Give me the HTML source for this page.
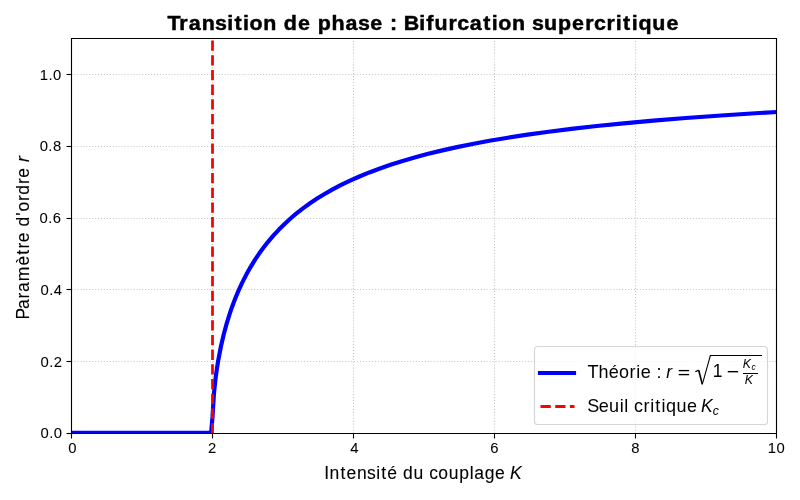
<!DOCTYPE html>
<html><head><meta charset="utf-8"><style>
html,body{margin:0;padding:0;background:#fff;width:800px;height:500px;overflow:hidden}
svg{display:block;will-change:transform}
text{font-family:"Liberation Sans",sans-serif}
</style></head><body>
<svg width="800" height="500" viewBox="0 0 800 500">
<defs><clipPath id="ax"><rect x="71.28" y="38.33" width="704.91" height="394.67"/></clipPath></defs>
<rect width="800" height="500" fill="#fff"/>
<g fill="none" stroke="#b0b0b0" stroke-opacity="0.7" stroke-width="1.1111" stroke-dasharray="1.1111 1.8333" clip-path="url(#ax)"><path d="M71.5 433.5V38.5"/><path d="M212.5 433.5V38.5"/><path d="M353.5 433.5V38.5"/><path d="M494.5 433.5V38.5"/><path d="M635.5 433.5V38.5"/><path d="M776.5 433.5V38.5"/><path d="M71.5 433.5H776.5"/><path d="M71.5 361.5H776.5"/><path d="M71.5 289.5H776.5"/><path d="M71.5 218.5H776.5"/><path d="M71.5 146.5H776.5"/><path d="M71.5 74.5H776.5"/></g>
<path d="M71.28 432.72 L211.13 432.72 L212.54 416.69 L213.95 393.64 L215.37 380.07 L216.78 369.53 L218.19 360.67 L221.02 346.01 L223.84 333.93 L226.67 323.54 L229.49 314.39 L232.32 306.18 L235.14 298.74 L237.97 291.91 L242.21 282.65 L246.45 274.33 L250.68 266.80 L254.92 259.91 L259.16 253.59 L263.40 247.75 L267.64 242.32 L273.29 235.66 L278.94 229.56 L284.59 223.95 L290.24 218.76 L295.89 213.95 L302.95 208.40 L310.01 203.30 L317.08 198.59 L324.14 194.23 L332.62 189.41 L341.09 184.97 L349.57 180.88 L359.46 176.48 L369.35 172.44 L379.23 168.72 L390.54 164.80 L401.84 161.20 L414.55 157.49 L427.26 154.09 L441.39 150.62 L456.93 147.14 L472.47 143.98 L489.42 140.82 L507.79 137.71 L527.56 134.68 L548.75 131.74 L571.35 128.90 L596.78 126.03 L623.62 123.31 L653.29 120.62 L685.78 117.99 L721.09 115.46 L759.24 113.03 L776.19 112.04 L776.19 112.04" fill="none" stroke="#0000ff" stroke-width="4.1667" stroke-linecap="square" stroke-linejoin="round" clip-path="url(#ax)"/>
<path d="M212.5 433.5V38.5" fill="none" stroke="#ff0000" stroke-width="2.7778" stroke-dasharray="10.2778 4.4444" clip-path="url(#ax)"/>
<path d="M71.5 38.5H776.5V433.5H71.5Z" fill="none" stroke="#000" stroke-width="1.1111" stroke-linejoin="miter"/>
<g stroke="#000" stroke-width="1.1111" fill="none"><path d="M71.5 433.5V438.5"/><path d="M212.5 433.5V438.5"/><path d="M353.5 433.5V438.5"/><path d="M494.5 433.5V438.5"/><path d="M635.5 433.5V438.5"/><path d="M776.5 433.5V438.5"/><path d="M71.5 433.5H66.5"/><path d="M71.5 361.5H66.5"/><path d="M71.5 289.5H66.5"/><path d="M71.5 218.5H66.5"/><path d="M71.5 146.5H66.5"/><path d="M71.5 74.5H66.5"/></g>
<g opacity="0.8"><path d="M537.83 346.5H764.17Q767.5 346.5 767.5 349.83V421.17Q767.5 424.5 764.17 424.5H537.83Q534.5 424.5 534.5 421.17V349.83Q534.5 346.5 537.83 346.5Z" fill="#fff" stroke="#ccc" stroke-width="1.1111"/></g>
<path d="M540 373H574" stroke="#0000ff" stroke-width="4.1667" stroke-linecap="square"/>
<path d="M540.5 406.5H574.5" stroke="#ff0000" stroke-width="2.7778" stroke-dasharray="10.2778 4.4444"/>
<g fill="#000"><rect x="678.75" y="369.92" width="10.37" height="1.35"/><rect x="678.75" y="373.92" width="10.37" height="1.35"/><rect x="727.75" y="370.97" width="10.41" height="1.41"/><rect x="743" y="373" width="15" height="1"/><rect x="709.9" y="355" width="52.1" height="1"/></g>
<g fill="none" stroke="#000"><path d="M695.3 371.7L698.7 370.1" stroke-width="1.2"/><path d="M698.7 370.3L702.3 384.3" stroke-width="1.6"/><path d="M702.3 384.3L710.4 355.5" stroke-width="1.05"/></g>
<g transform="translate(423.23 30.00) scale(1.0700 1)" fill="#000" stroke="#000" stroke-width="0.45"><text x="-238.91 -228.01 -219.07 -207.02 -194.59 -183.28 -176.38 -168.37 -162.34 -149.63 -136.67 -130.33 -117.12 -105.01 -98.67 -85.70 -72.55 -61.01 -49.44 -37.33 -31.09 -23.74 -18.10 -3.61 2.91 10.55 23.72 31.91 43.43 56.14 64.15 70.17 82.88 95.85 101.63 112.96 125.93 139.15 151.46 159.66 171.20 179.91 186.81 194.82 201.11 214.08 227.26" y="0" font-size="20.028" font-weight="bold">Transition de phase : Bifurcation supercritique</text></g><g transform="translate(72.32 453.00) scale(0.9800 1)" fill="#000" stroke="#000" stroke-width="0.05"><text x="-4.21" y="0" font-size="15.139">0</text></g><g transform="translate(212.20 453.00) scale(0.9800 1)" fill="#000" stroke="#000" stroke-width="0.05"><text x="-4.21" y="0" font-size="15.139">2</text></g><g transform="translate(354.40 453.00) scale(0.9800 1)" fill="#000" stroke="#000" stroke-width="0.05"><text x="-4.21" y="0" font-size="15.139">4</text></g><g transform="translate(494.28 453.00) scale(0.9800 1)" fill="#000" stroke="#000" stroke-width="0.05"><text x="-4.21" y="0" font-size="15.139">6</text></g><g transform="translate(635.39 453.00) scale(0.9800 1)" fill="#000" stroke="#000" stroke-width="0.05"><text x="-4.21" y="0" font-size="15.139">8</text></g><g transform="translate(776.29 453.00) scale(0.9800 1)" fill="#000" stroke="#000" stroke-width="0.05"><text x="-8.72 0.30" y="0" font-size="15.139">10</text></g><g transform="translate(62.34 438.00) scale(0.9800 1)" fill="#000" stroke="#000" stroke-width="0.05"><text x="-22.24 -13.37 -8.72" y="0" font-size="15.139">0.0</text></g><g transform="translate(62.23 367.00) scale(0.9800 1)" fill="#000" stroke="#000" stroke-width="0.05"><text x="-22.24 -13.37 -8.72" y="0" font-size="15.139">0.2</text></g><g transform="translate(62.37 295.00) scale(0.9800 1)" fill="#000" stroke="#000" stroke-width="0.05"><text x="-22.24 -13.37 -8.72" y="0" font-size="15.139">0.4</text></g><g transform="translate(61.37 223.00) scale(0.9800 1)" fill="#000" stroke="#000" stroke-width="0.05"><text x="-22.24 -13.37 -8.72" y="0" font-size="15.139">0.6</text></g><g transform="translate(61.43 151.00) scale(0.9800 1)" fill="#000" stroke="#000" stroke-width="0.05"><text x="-22.24 -13.37 -8.72" y="0" font-size="15.139">0.8</text></g><g transform="translate(61.48 80.00) scale(0.9800 1)" fill="#000" stroke="#000" stroke-width="0.05"><text x="-22.24 -13.37 -8.72" y="0" font-size="15.139">1.0</text></g><g transform="translate(324.25 479.00)" fill="#000" stroke="#000" stroke-width="0.1"><text x="0.03 5.33 16.31 22.27 32.68 42.80 51.88 56.98 62.94 73.15 78.65 89.23 99.59 104.88 114.07 124.45 135.02 145.55 150.04 160.44 170.86 181.07" y="0" font-size="17.500">Intensité du couplage </text><text x="185.78" y="0" font-size="17.500" font-style="italic">K</text></g><g transform="translate(29.00 318.60) rotate(-90)" fill="#000" stroke="#000" stroke-width="0.1"><text x="-0.81 9.54 20.03 26.61 37.41 53.08 63.91 70.12 76.35 86.56 92.07 102.84 107.04 117.51 123.98 134.65 140.89 151.10" y="0" font-size="17.500">Paramètre d&#39;ordre </text><text x="156.69" y="0" font-size="17.500" font-style="italic">r</text></g><g transform="translate(588.00 378.00) scale(1.0100 1)" fill="#000"><text x="-0.41 10.35 20.66 30.78 41.21 47.88 52.27 62.45 67.86 73.26" y="0" font-size="17.833">Théorie : </text></g><g transform="translate(665.80 378.00)" fill="#000"><text x="0.51" y="0" font-size="17.500" font-style="italic">r</text></g><g transform="translate(712.20 377.00)" fill="#000"><text x="0.44" y="0" font-size="17.500">1</text></g><g transform="translate(743.00 368.00)" fill="#000"><text x="-0.26" y="0" font-size="12.250" font-style="italic">K</text></g><g transform="translate(751.50 370.00)" fill="#000"><text x="0.10" y="0" font-size="8.575" font-style="italic">c</text></g><g transform="translate(745.00 384.00)" fill="#000"><text x="-0.26" y="0" font-size="12.250" font-style="italic">K</text></g><g transform="translate(588.00 412.00) scale(1.0100 1)" fill="#000"><text x="-0.71 10.59 20.90 31.40 35.98 40.40 45.58 55.00 61.67 66.70 72.72 77.28 87.74 98.05 108.23" y="0" font-size="17.833">Seuil critique </text></g><g transform="translate(701.40 412.00)" fill="#000"><text x="-0.37" y="0" font-size="17.500" font-style="italic">K</text></g><g transform="translate(712.50 415.00)" fill="#000"><text x="0.14" y="0" font-size="12.250" font-style="italic">c</text></g>
</svg>
</body></html>
